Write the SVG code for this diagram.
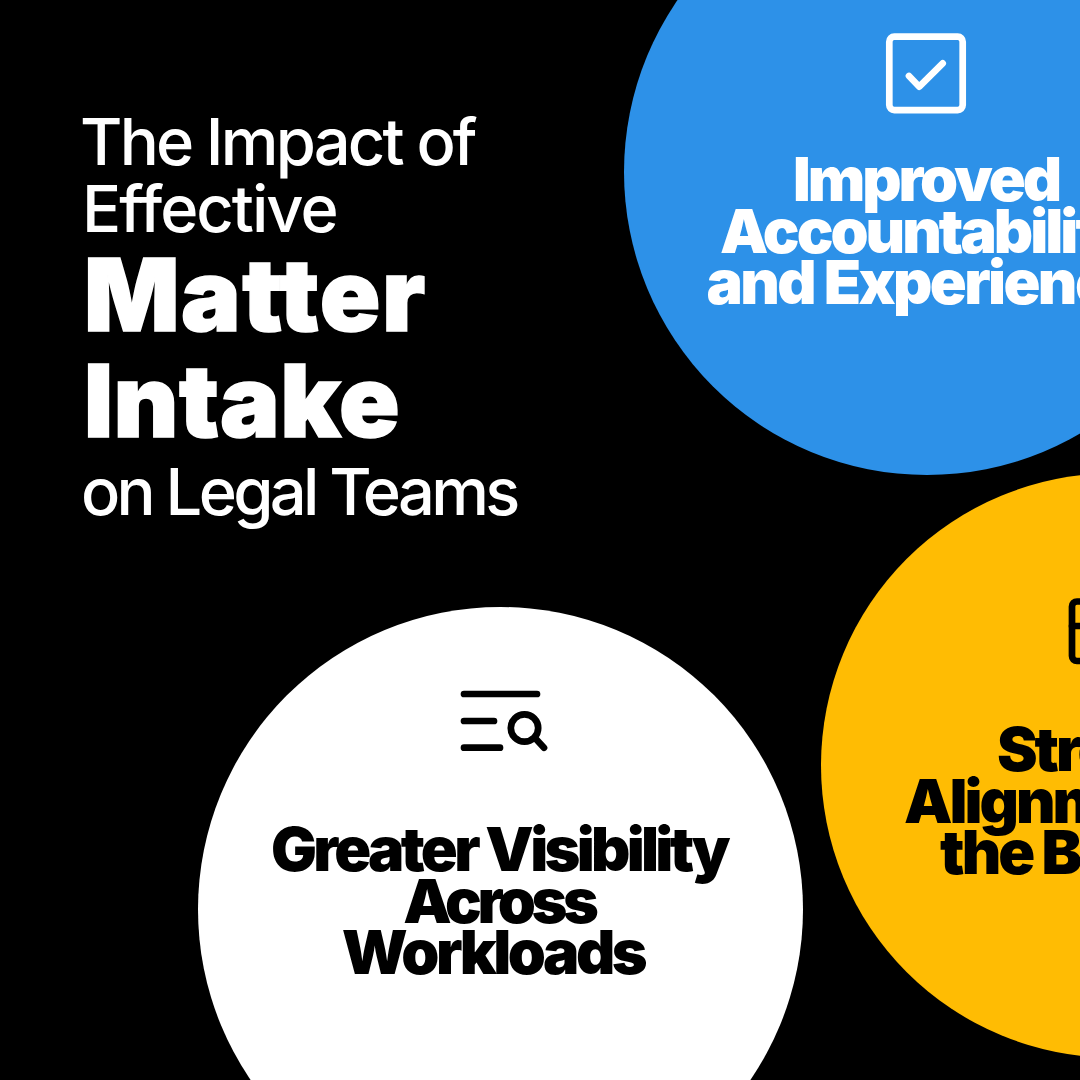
<svg xmlns="http://www.w3.org/2000/svg" width="1080" height="1080" viewBox="0 0 1080 1080">
<style>
.l{font-family:"Inter","Liberation Sans",sans-serif;fill:#fff;font-weight:500;font-size:65px}
.b{font-family:"Inter","Liberation Sans",sans-serif;fill:#fff;font-weight:900;font-size:100px;stroke:#fff;stroke-width:1.500px}
.h{font-family:"Inter","Liberation Sans",sans-serif;font-weight:900;font-size:61px;text-anchor:middle}
.i{fill:none;stroke-linecap:round;stroke-linejoin:round;stroke-width:6.700px}
</style>
<rect width="1080" height="1080" fill="#000"/>
<g id="title">
<text class="l" x="80" y="165" letter-spacing="-2.800">The Impact of</text>
<text class="l" x="82" y="232" letter-spacing="-2">Effective</text>
<text class="b" x="84" y="331" letter-spacing="1.500">Matter</text>
<text class="b" x="84" y="437" letter-spacing="0.500">Intake</text>
<text class="l" x="81" y="515" letter-spacing="-3.700">on Legal Teams</text>
</g>
<g id="node-blue">
<circle cx="927" cy="172" r="303" fill="#2d91e8"/>
<rect class="i" x="889.300" y="36.700" width="73.400" height="73.400" rx="5" stroke="#fff"/>
<path class="i" d="M909 76L919.300 86.700L942.700 63.300" stroke="#fff"/>
<g fill="#fff"><text class="h" x="926" y="201" letter-spacing="-3">Improved</text>
<text class="h" x="927" y="253" letter-spacing="-3">Accountability</text>
<text class="h" x="925" y="304" letter-spacing="-2.600">and Experience</text></g>
</g>
<g id="node-yellow">
<circle cx="1113" cy="765.500" r="292" fill="#ffbc03"/>
<rect class="i" x="1072" y="601.500" width="70" height="59.500" rx="5" stroke="#000"/>
<path class="i" d="M1072 626H1142" stroke="#000"/>
<g fill="#000"><text class="h" x="1120" y="771" letter-spacing="-3">Stronger</text>
<text class="h" x="1118" y="823" letter-spacing="-3">Alignment with</text>
<text class="h" x="1120" y="874" letter-spacing="-3">the Business</text></g>
</g>
<g id="node-white">
<circle cx="500.500" cy="909.500" r="302.500" fill="#fff"/>
<path class="i" d="M464 694H537M464 721H494M464 747.700H500" stroke="#000"/>
<circle class="i" cx="524.500" cy="728" r="13.700" stroke="#000"/>
<path class="i" d="M535 738L544 747.700" stroke="#000"/>
<g fill="#000"><text class="h" x="499" y="871" letter-spacing="-3.700">Greater Visibility</text>
<text class="h" x="499" y="923" letter-spacing="-4.300">Across</text>
<text class="h" x="493" y="974" letter-spacing="-3.500">Workloads</text></g>
</g>
<g id="connectors"/>
</svg>
